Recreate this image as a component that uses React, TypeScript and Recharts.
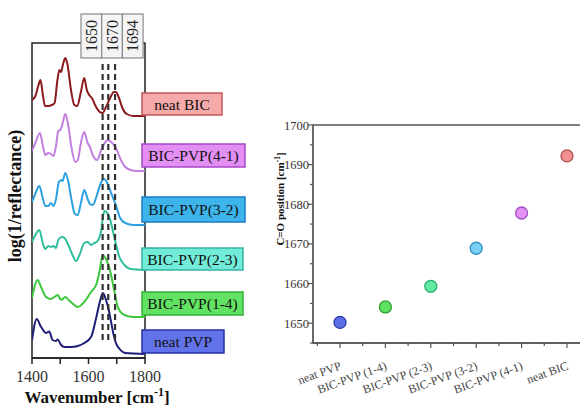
import React from 'react';
import { LineChart, Line, XAxis, YAxis, ReferenceLine, ReferenceArea, ScatterChart, Scatter } from 'recharts';

// ---- Left panel: spectra (log(1/reflectance), stacked, arbitrary units) ----
const bicWn = [1400,1412,1422,1430,1438,1446,1458,1470,1480,1490,1497,1503,1510,1518,1526,1538,1550,1560,1573,1585,1594,1605,1612,1625,1640,1650,1662,1675,1690,1697,1708,1720,1735,1760,1800];
const bicVal = [258,262,272,278,264,252,252,253,255,278,288,286,294,300,293,268,253,252,266,280,268,262,260,252,246,245,251,259,266,266,260,250,244,242,242];

const p41Wn = [1400,1412,1428,1438,1447,1458,1467,1476,1485,1493,1500,1506,1518,1528,1540,1553,1562,1573,1585,1597,1605,1615,1630,1645,1660,1668,1680,1697,1710,1720,1740,1770,1800];
const p41Val = [207,215,225,213,203,205,204,202,212,227,228,232,244,233,210,196,198,215,226,215,211,203,198,208,216,218,216,210,201,195,189,187,187];

const p32Wn = [1400,1410,1426,1438,1447,1458,1467,1476,1485,1495,1503,1508,1518,1528,1540,1552,1562,1573,1585,1597,1605,1615,1630,1645,1656,1668,1680,1697,1712,1730,1760,1800];
const p32Val = [156,163,172,160,152,152,155,152,159,176,178,177,185,177,158,144,143,155,168,159,154,153,163,176,179,174,165,153,140,135,133,133];

const p23Wn = [1400,1410,1426,1438,1447,1458,1467,1476,1485,1493,1505,1515,1530,1545,1556,1568,1585,1597,1609,1621,1632,1644,1656,1663,1677,1692,1708,1727,1750,1800];
const p23Val = [116,122,128,115,109,112,111,112,110,118,121,120,112,102,97,103,115,116,113,115,117,126,147,146,138,120,102,93,89,88];

const p14Wn = [1400,1420,1432,1450,1467,1479,1491,1503,1518,1530,1550,1562,1585,1609,1627,1640,1650,1660,1680,1692,1705,1727,1760,1800];
const p14Val = [60,78,71,61,59,61,63,58,61,58,53,51,56,66,73,88,103,100,83,66,50,43,41,41];

const pvpWn = [1400,1417,1430,1437,1449,1461,1473,1485,1491,1503,1515,1538,1562,1585,1609,1627,1640,1651,1662,1670,1680,1690,1697,1710,1730,1800];
const pvpVal = [18,39,32,29,25,26.5,18,17,18.5,13,11,11,12,15,21,40,56,65,58,50,36,22,15,9,5,4];

const spectraNames = ['neat BIC', 'BIC-PVP(4-1)', 'BIC-PVP(3-2)', 'BIC-PVP(2-3)', 'BIC-PVP(1-4)', 'neat PVP'];
const spectraColors = ['#8a1a1e', '#c27fe0', '#2b9fe0', '#2fbe9c', '#3ec83e', '#1e1e78'];
const legendFills = ['#f5a9a9', '#e28ef2', '#3db4ea', '#72ecd8', '#62e262', '#6272e8'];
const legendBorders = ['#c05858', '#a648c8', '#1a7cc4', '#34b4a2', '#34b034', '#2432a4'];

const peakMarks = [1650, 1670, 1694];
const leftTicks = [1400, 1500, 1600, 1700, 1800];
const leftTickLabels = ['1400', '', '1600', '', '1800'];

// ---- Right panel: C=O position ----
const samples = ['neat PVP', 'BIC-PVP (1-4)', 'BIC-PVP (2-3)', 'BIC-PVP (3-2)', 'BIC-PVP (4-1)', 'neat BIC'];
const samplePos = [1, 2, 3, 4, 5, 6];
const coPosition = [1650.2, 1654.1, 1659.3, 1668.9, 1677.8, 1692.2];
const pointFills = ['#5a6ee6', '#60e060', '#62e8a2', '#7ad0f5', '#e290f5', '#f29090'];
const pointBorders = ['#2a3aa0', '#30a030', '#30b070', '#3090c0', '#a050c0', '#b05050'];
const rightYTicks = [1645, 1650, 1655, 1660, 1665, 1670, 1675, 1680, 1685, 1690, 1695, 1700];
const rightXTicks = [0.5, 1, 1.5, 2, 2.5, 3, 3.5, 4, 4.5, 5, 5.5, 6, 6.5];

const SERIF = "Liberation Serif, DejaVu Serif, serif";

const spectra = spectraNames.map((name, i) => {
  const wn = [bicWn, p41Wn, p32Wn, p23Wn, p14Wn, pvpWn][i];
  const val = [bicVal, p41Val, p32Val, p23Val, p14Val, pvpVal][i];
  return { name, color: spectraColors[i], data: wn.map((w, j) => ({ w, v: val[j] })) };
});

const scatterData = samplePos.map((p, i) => ({ p, v: coPosition[i], i }));

const LeftTick = (props: any) => {
  const { x, y, payload } = props;
  const idx = leftTicks.indexOf(payload.value);
  return (
    <g>
      <line x1={x} x2={x} y1={y} y2={y + 6} stroke="#222" strokeWidth={1.5} />
      <text x={x} y={y + 24} textAnchor="middle" fontSize={16} fill="#333" style={{ fontFamily: SERIF }}>
        {leftTickLabels[idx]}
      </text>
    </g>
  );
};

const RightYTick = (props: any) => {
  const { x, y, payload } = props;
  const major = payload.value % 10 === 0;
  return (
    <g>
      <line x1={x} x2={x - (major ? 5 : 3)} y1={y} y2={y} stroke="#555" strokeWidth={1.2} />
      {major && (
        <text x={x - 4} y={y + 4.5} textAnchor="end" fontSize={12.5} fill="#333" style={{ fontFamily: SERIF }}>
          {payload.value}
        </text>
      )}
    </g>
  );
};

const RightXTick = (props: any) => {
  const { x, y, payload } = props;
  const major = Number.isInteger(payload.value);
  const label = major ? samples[samplePos.indexOf(payload.value)] : '';
  const tx = x + 2;
  const ty = y + 26;
  return (
    <g>
      <line x1={x} x2={x} y1={y} y2={y + (major ? 5 : 3)} stroke="#555" strokeWidth={1.2} />
      {label && (
        <text x={tx} y={ty} textAnchor="end" fontSize={12} fill="#444" style={{ fontFamily: SERIF }}
          transform={`rotate(-20, ${tx}, ${ty})`}>
          {label}
        </text>
      )}
    </g>
  );
};

const Dot = (props: any) => {
  const { cx, cy, payload } = props;
  const i = payload.i;
  return <circle cx={cx} cy={cy} r={6} fill={pointFills[i]} stroke={pointBorders[i]} strokeWidth={1.3} />;
};

const legendBoxes = [
  { y: 93, h: 22, w: 80 },
  { y: 144, h: 23, w: 103 },
  { y: 197, h: 25, w: 103 },
  { y: 248, h: 22, w: 101 },
  { y: 292, h: 23, w: 101 },
  { y: 330, h: 23, w: 82 },
];

export default function App() {
  return (
    <div style={{ position: 'absolute', left: 0, top: 0, width: 580, height: 408, overflow: 'hidden', background: '#fff', fontFamily: SERIF }}>
      <div style={{ position: 'absolute', left: 0, top: 0 }}>
        <LineChart width={200} height={408} margin={{ top: 43, right: 55, bottom: 20, left: 32 }}>
          <XAxis dataKey="w" type="number" domain={[1400, 1800]} ticks={leftTicks} interval={0}
            height={30} tickSize={0} tickMargin={0} tickLine={false} tick={<LeftTick />}
            axisLine={{ stroke: '#222', strokeWidth: 1.5 }} allowDataOverflow />
          <YAxis type="number" domain={[0, 315]} hide allowDataOverflow />
          <ReferenceArea x1={1400} x2={1800} y1={0} y2={315} fill="none" stroke="#222" strokeWidth={1.5} fillOpacity={0} />
          {spectra.map((s) => (
            <Line key={s.name} data={s.data} dataKey="v" type="monotone" stroke={s.color} strokeWidth={2}
              dot={false} isAnimationActive={false} />
          ))}
          {peakMarks.map((m) => (
            <ReferenceLine key={m} segment={[{ x: m, y: 18 }, { x: m, y: 295 }]} stroke="#333"
              strokeWidth={2.2} strokeDasharray="6 4" />
          ))}
        </LineChart>
      </div>

      <div style={{ position: 'absolute', left: 250, top: 0 }}>
        <ScatterChart width={340} height={408} margin={{ top: 125, right: 0, bottom: 5, left: 0 }}>
          <XAxis dataKey="p" type="number" domain={[0.405, 6.507]} ticks={rightXTicks} interval={0}
            height={60} tickSize={0} tickMargin={0} tickLine={false} tick={<RightXTick />}
            axisLine={{ stroke: '#555', strokeWidth: 1.3 }} allowDataOverflow />
          <YAxis dataKey="v" type="number" domain={[1645, 1700]} ticks={rightYTicks} interval={0}
            width={63} tickSize={0} tickMargin={0} tickLine={false} tick={<RightYTick />}
            axisLine={{ stroke: '#555', strokeWidth: 1.3 }} allowDataOverflow />
          <ReferenceArea x1={0.405} x2={6.507} y1={1645} y2={1700} fill="none" fillOpacity={0} stroke="#555" strokeWidth={1.3} />
          <Scatter data={scatterData} shape={<Dot />} isAnimationActive={false} />
        </ScatterChart>
      </div>

      <svg width={580} height={408} style={{ position: 'absolute', left: 0, top: 0, pointerEvents: 'none', fontFamily: SERIF }}>
        {/* peak position label boxes */}
        {peakMarks.map((m, i) => {
          const x0 = 81 + i * 20.7;
          return (
            <g key={m}>
              <rect x={x0} y={14} width={20.7} height={44} fill="#f4f4f4" stroke="#8a8a8a" strokeWidth={1.2} />
              <text x={x0 + 15.8} y={36} fontSize={16} fill="#222" textAnchor="middle"
                transform={`rotate(-90, ${x0 + 15.8}, 36)`}>{m}</text>
            </g>
          );
        })}
        {/* spectra legend boxes */}
        {spectraNames.map((n, i) => {
          const b = legendBoxes[i];
          return (
            <g key={n}>
              <rect x={142} y={b.y} width={b.w} height={b.h} fill={legendFills[i]} stroke={legendBorders[i]} strokeWidth={1.5} />
              <text x={142 + b.w / 2} y={b.y + b.h / 2 + 5.5} fontSize={15.5} textAnchor="middle" fill="#111">{n}</text>
            </g>
          );
        })}
        {/* left axis titles */}
        <text x={97} y={403} fontSize={17} fontWeight="bold" textAnchor="middle" fill="#111">
          <tspan>Wavenumber [cm</tspan>
          <tspan dy={-7} fontSize={12}>-1</tspan>
          <tspan dy={7}>]</tspan>
        </text>
        <text x={21} y={196} fontSize={18} fontWeight="bold" textAnchor="middle" fill="#111"
          transform="rotate(-90, 21, 196)">log(1/reflectance)</text>
        {/* right axis title */}
        <text x={284} y={199} fontSize={11} fontWeight="bold" textAnchor="middle" fill="#111"
          transform="rotate(-90, 284, 199)">
          <tspan>C=O position [cm</tspan>
          <tspan dy={-4} fontSize={7.5}>-1</tspan>
          <tspan dy={4}>]</tspan>
        </text>
      </svg>
    </div>
  );
}
